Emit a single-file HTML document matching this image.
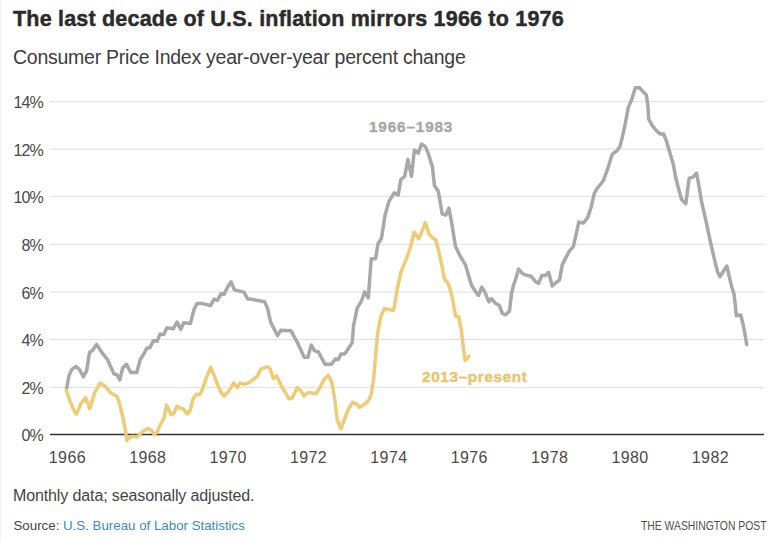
<!DOCTYPE html>
<html><head><meta charset="utf-8">
<style>
html,body{margin:0;padding:0;background:#fff;}
body{width:774px;height:542px;position:relative;overflow:hidden;font-family:"Liberation Sans",sans-serif;}
.edge{position:absolute;left:0;top:0;width:1px;height:542px;background:#f2f2f2;}
svg{position:absolute;left:0;top:0;}
text{font-family:"Liberation Sans",sans-serif;}
</style></head><body>
<div class="edge"></div>
<svg width="774" height="542" viewBox="0 0 774 542">
<text x="13" y="26" font-size="21.5" font-weight="bold" fill="#2b2b2b" stroke="#2b2b2b" stroke-width="0.45" letter-spacing="0.2">The last decade of U.S. inflation mirrors 1966 to 1976</text>
<text x="13" y="63.6" font-size="19.5" fill="#3c3c3c" letter-spacing="-0.25">Consumer Price Index year-over-year percent change</text>
<g><line x1="50" y1="387.40" x2="764" y2="387.40" stroke="#dfdfdf" stroke-width="1"/>
<line x1="50" y1="339.50" x2="764" y2="339.50" stroke="#dfdfdf" stroke-width="1"/>
<line x1="50" y1="291.95" x2="764" y2="291.95" stroke="#dfdfdf" stroke-width="1"/>
<line x1="50" y1="244.30" x2="764" y2="244.30" stroke="#dfdfdf" stroke-width="1"/>
<line x1="50" y1="196.40" x2="764" y2="196.40" stroke="#dfdfdf" stroke-width="1"/>
<line x1="50" y1="149.10" x2="764" y2="149.10" stroke="#dfdfdf" stroke-width="1"/>
<line x1="50" y1="101.60" x2="764" y2="101.60" stroke="#dfdfdf" stroke-width="1"/>
</g>
<line x1="50" y1="434.4" x2="764" y2="434.4" stroke="#333" stroke-width="1.5"/>
<g font-size="16" fill="#4a4a4a"><text x="43" y="441.00" text-anchor="end" letter-spacing="-0.8">0%</text>
<text x="43" y="394.00" text-anchor="end" letter-spacing="-0.8">2%</text>
<text x="43" y="346.10" text-anchor="end" letter-spacing="-0.8">4%</text>
<text x="43" y="298.55" text-anchor="end" letter-spacing="-0.8">6%</text>
<text x="43" y="250.90" text-anchor="end" letter-spacing="-0.8">8%</text>
<text x="43" y="203.00" text-anchor="end" letter-spacing="-0.8">10%</text>
<text x="43" y="155.70" text-anchor="end" letter-spacing="-0.8">12%</text>
<text x="43" y="108.20" text-anchor="end" letter-spacing="-0.8">14%</text>
<text x="67.40" y="463.4" text-anchor="middle" letter-spacing="0.4">1966</text>
<text x="147.78" y="463.4" text-anchor="middle" letter-spacing="0.4">1968</text>
<text x="228.15" y="463.4" text-anchor="middle" letter-spacing="0.4">1970</text>
<text x="308.52" y="463.4" text-anchor="middle" letter-spacing="0.4">1972</text>
<text x="388.90" y="463.4" text-anchor="middle" letter-spacing="0.4">1974</text>
<text x="469.27" y="463.4" text-anchor="middle" letter-spacing="0.4">1976</text>
<text x="549.65" y="463.4" text-anchor="middle" letter-spacing="0.4">1978</text>
<text x="630.02" y="463.4" text-anchor="middle" letter-spacing="0.4">1980</text>
<text x="710.40" y="463.4" text-anchor="middle" letter-spacing="0.4">1982</text>
</g>
<polyline fill="none" stroke="#a8a8a8" stroke-width="3.5" stroke-linejoin="round" stroke-linecap="round" points="66.6,388.6 68.9,376 71.8,369.4 76.2,366.5 79.9,370.2 83.3,376.8 86.6,370.9 89.5,352.5 92.5,350.3 96.6,344.4 99.9,349.5 103.5,354.7 107.2,359.1 110.9,367.2 113.9,373.9 116.8,374.6 119.8,379.8 122.7,368 126.4,364.3 130.8,372.4 136.8,372.4 140.2,359.7 143.9,353.8 146.8,347.9 149.8,347.9 153.5,340.5 157.1,341.3 160.1,333.9 163.8,334.6 166.7,328 173.4,328.7 177.1,322.1 180.8,329.4 183.7,322.8 190.4,323.5 194,309.5 197,303.6 202.9,303.6 210.5,305.6 214.2,299 217.4,300.3 221.1,293.6 224,294.4 227.7,287 231.1,281.8 234.4,289.9 238,290.7 244,292.1 247.6,298.8 252.8,299.5 264.6,301.7 267.6,308.4 270.5,321.7 274.2,329 277.6,335.7 280.8,330.2 290.9,330.7 296.8,341.3 304.2,357.3 307.9,357.3 311.3,345 314.5,350.9 318.2,351.7 324.9,364.2 331.5,364.2 335.2,359 338.1,359.8 341.1,353.9 344.8,353.9 352.2,342.8 353.6,325.1 355.8,314.8 357.2,308.2 361.6,300.8 364.6,291.9 368.3,297.8 371.2,258.8 375.6,258.8 377.9,244 381.5,238.1 385.1,215.1 389.1,201 394.2,192.8 398.2,195.1 400.8,179.6 404.7,176.3 407.9,159.5 411.5,176.3 414.4,149.9 418.3,153.1 421.5,144 425.4,146.6 428.6,154.4 432.5,167.3 434.4,185.4 438.3,191.2 442.2,214 445.8,215.1 448.9,208 451.8,223.5 455.4,246.3 460.1,255.9 465.6,265.2 468.2,274.2 471.5,285.2 474.7,290.3 478.5,295.5 481.8,287.1 485,292.3 488.9,301.9 491.5,298.7 495.3,303.2 499.2,305.2 502.4,313.5 505.6,314.8 509.5,311 511.5,293.5 513.4,285.8 516,278.1 518.6,269 522,273.2 526.2,275.3 531.2,276.3 535.3,281.4 538.5,283.3 542,275.4 545.5,275.4 548.7,272.3 552.2,286 556.1,282.5 559.6,279.8 562.2,264.9 566.6,256.1 570.1,250 573.2,247 576.2,234.2 578.8,222 583.3,223.1 587.7,217.6 591,207.6 594.4,193.2 597.7,187.6 603.2,181 607.7,168.8 612.1,154.4 616.5,151.1 619.9,146.6 622.5,136.4 625.2,123.9 628.3,107.4 631.4,100.4 635.4,87.8 639.3,87.5 642.4,91 646.3,94.9 647.9,105.8 648.7,119.2 652.6,126.2 657.3,131.7 660.4,134 663.6,134 666.5,141.2 669.8,152.5 673.3,164.2 675.4,176 678.1,187.1 681.6,199.5 685.8,203.7 689.2,178.1 692.7,177.4 696.6,173.2 699.6,189.8 701.5,201.5 705.9,220.7 710.3,241.3 714,257.6 717.7,272.3 719.9,276.8 726.8,266 731.2,284.8 734.2,295.1 736.4,315.8 740.8,315 743.8,327.6 746.7,344.5"/>
<polyline fill="none" stroke="#eecb75" stroke-width="3.5" stroke-linejoin="round" stroke-linecap="round" points="66.2,390 69.7,400.4 73.1,408.7 76.6,414.2 80.7,403.9 85.6,397.7 89.7,408.7 94.6,392.8 100.1,383.1 105.6,386.6 110.5,392.8 115.3,395.6 117.2,396.8 119.6,404 122.6,416 125,428 126.8,440.6 129.2,437.6 131.6,436.4 134,436.4 137,437 140,434 144.8,429.8 148.4,428.6 151.4,430.4 154.4,434.6 157.4,431.6 160.4,424.4 164,418.4 166.6,405.1 168.7,409.6 171,414.6 174,413.4 177,406.2 180,408 183.6,409.2 187.2,414 190.2,410.4 193.2,398.4 196.2,394.2 199.8,394.8 202.2,390 205.8,379.2 210.6,367.2 214.2,375.6 217.8,385.2 221.4,393 224.1,396.1 228.1,392.1 233.7,382.9 237.3,387.5 240.3,382.9 244.4,384.4 248.4,382.9 253.5,379.4 257.6,375.8 260.6,369.2 264.7,367.7 267.7,366.7 270.3,369.2 273.3,378.4 276.5,375.8 281.9,387 285.4,392.5 288.8,398.7 292.3,398 297.1,387.7 300.6,390.4 304,396 308.2,392.5 312.3,393.2 316.5,393.2 320.6,386.3 324.1,379.4 328.2,375.2 331.7,382.1 334.5,397.3 337.3,420 341,429 344,420.4 347.6,410.8 352.4,402.4 356,403.6 359.6,407.2 363.8,404.8 368,401.2 371,395.2 373.5,380 376.1,350.1 377.9,331.7 380.7,316.9 384.4,308.6 389,309.5 393.6,310.4 395.4,300.3 397.3,289.2 400.9,272 405.3,261.6 409.7,249.8 414.2,232.1 418.6,238.8 422.3,230.6 425.2,222.5 428.9,233.6 432.6,238 435.6,239.5 439.2,252.8 442.2,267.5 444.4,279 448.2,283.4 452.3,297 455.5,316.1 458.7,316.8 461.3,329.7 463.2,346.5 465.2,360.6 469,356.1"/>
<text x="369" y="132.2" font-weight="bold" font-size="15.3" fill="#a8a8a8" stroke="#a8a8a8" stroke-width="0.4" letter-spacing="0.85">1966–1983</text>
<text x="422" y="382.2" font-weight="bold" font-size="15.3" fill="#e8c46c" stroke="#e8c46c" stroke-width="0.4" letter-spacing="0.65">2013–present</text>
<text x="13" y="500.8" font-size="16" fill="#444" letter-spacing="-0.12">Monthly data; seasonally adjusted.</text>
<text x="13.5" y="529.8" font-size="13.3" fill="#444">Source: <tspan fill="#3a8bbd">U.S. Bureau of Labor Statistics</tspan></text>
<text x="0" y="0" font-size="12.5" fill="#4e4e4e" transform="translate(641,529.9) scale(0.83,1)">THE WASHINGTON POST</text>
</svg>
</body></html>
